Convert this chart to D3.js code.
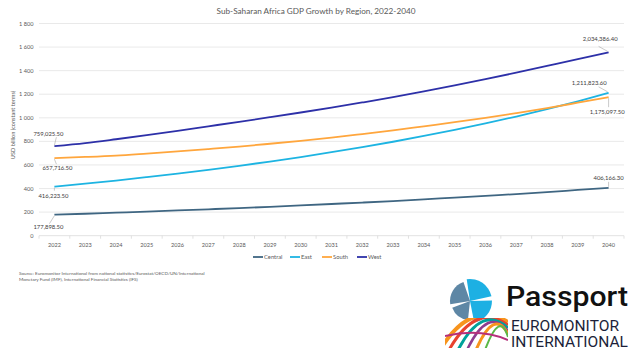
<!DOCTYPE html>
<html><head><meta charset="utf-8">
<script src="https://cdn.jsdelivr.net/npm/d3@7"></script>
<style>html,body{margin:0;padding:0;background:#fff;}svg{display:block;font-family:Lato,"Open Sans",sans-serif;}</style>
</head><body><svg id="c" width="632" height="355"></svg>
<script>
const years = ["2022","2023","2024","2025","2026","2027","2028","2029","2030","2031","2032","2033","2034","2035","2036","2037","2038","2039","2040"];
const central = [178,186,195,204,214,224,234,245,257,269,281,294,308,323,338,353,370,388,406];
const east    = [416,441,468,497,527,559,593,629,667,708,751,797,846,898,953,1011,1073,1140,1212];
const south   = [658,668,680,697,715,735,756,780,805,832,862,893,928,963,1000,1040,1082,1128,1175];
const west    = [759,785,818,853,890,928,966,1005,1045,1087,1130,1175,1224,1275,1328,1383,1440,1497,1555];
const seriesNames = ["Central","East","South","West"];
const firstLabels = ["177,898.50","416,223.50","657,716.50","759,025.50"];
const lastLabels  = ["406,166.30","1,211,823.60","1,175,097.50","2,034,386.40"];
const yTicks = [0,200,400,600,800,1000,1200,1400,1600,1800];
const title = "Sub-Saharan Africa GDP Growth by Region, 2022-2040";
const yTitle = "USD billion (constant terms)";
const sourceLines = ["Source: Euromonitor International from national statistics/Eurostat/OECD/UN/International","Monetary Fund (IMF), International Financial Statistics (IFS)"];

const colors = ["#3F6682","#1DB4E2","#FFA63D","#2D30A8"];
const data = [central,east,south,west];

const svg = d3.select("#c");
const x = d3.scaleBand().domain(years).range([39,624]);
const cx = d => x(d) + x.bandwidth()/2;
const y = d3.scaleLinear().domain([0,1800]).range([235.7,23.5]);

// title
svg.append("text").attr("x",316).attr("y",13.5).attr("text-anchor","middle")
  .attr("font-size",8.2).attr("fill","#595959").text(title);

// gridlines
svg.append("g").selectAll("line").data(yTicks.filter(d=>d>0)).join("line")
  .attr("x1",39).attr("x2",624).attr("y1",d=>y(d)).attr("y2",d=>y(d))
  .attr("stroke","#e3e3e3").attr("stroke-width",0.8);

// y axis labels
const fmt = d => d3.format(",")(d).replace(/,/g," ");
svg.append("g").selectAll("text").data(yTicks).join("text")
  .attr("x",33.5).attr("y",d=>y(d)+2).attr("text-anchor","end")
  .attr("font-size",5.6).attr("fill","#595959").text(fmt);

// y title
svg.append("text").attr("transform","translate(14.5,125) rotate(-90)")
  .attr("text-anchor","middle").attr("font-size",5.6).attr("fill","#595959").text(yTitle);

// x axis
svg.append("line").attr("x1",39).attr("x2",624).attr("y1",y(0)).attr("y2",y(0))
  .attr("stroke","#d9d9d9").attr("stroke-width",0.8);
const tickPos = years.map(d=>x(d)).concat([x.range()[1]]);
svg.append("g").selectAll("line").data(tickPos).join("line")
  .attr("x1",d=>d).attr("x2",d=>d).attr("y1",y(0)).attr("y2",y(0)+3)
  .attr("stroke","#d9d9d9").attr("stroke-width",0.8);
const xa = svg.append("g").attr("transform",`translate(0,${y(0)})`)
  .call(d3.axisBottom(x).tickSize(0).tickPadding(7));
xa.select(".domain").remove();
xa.selectAll("text").attr("font-size",5.6).attr("fill","#595959").attr("font-family","Lato");

// lines
const line = d3.line().x((d,i)=>cx(years[i])).y(d=>y(d)).curve(d3.curveMonotoneX);
data.forEach((s,k)=>{
  svg.append("path").datum(s).attr("d",line).attr("fill","none")
    .attr("stroke",colors[k]).attr("stroke-width",1.8);
});

// data labels with leaders
const lab = (tx,ty,anchor,text,l) => {
  svg.append("line").attr("x1",l[0]).attr("y1",l[1]).attr("x2",l[2]).attr("y2",l[3])
    .attr("stroke","#a6a6a6").attr("stroke-width",0.6);
  svg.append("text").attr("x",tx).attr("y",ty).attr("text-anchor",anchor)
    .attr("font-size",5.9).attr("fill","#404040").text(text);
};
const x0 = cx(years[0]), x1 = cx(years[years.length-1]);
const n = years.length-1;
lab(x0-21,y(west[0])-10,"start",firstLabels[3],[x0,y(west[0])-1,x0+2,y(west[0])-9]);
lab(x0-12,y(south[0])+12,"start",firstLabels[2],[x0,y(south[0])+1,x0+2,y(south[0])+6]);
lab(x0-16,y(east[0])+11,"start",firstLabels[1],[x0,y(east[0])+1,x0,y(east[0])+4]);
lab(x0-21,y(central[0])+14,"start",firstLabels[0],[x0,y(central[0])+1,x0-5,y(central[0])+9]);
lab(x1+9,y(west[n])-11,"end",lastLabels[3],[x1-1,y(west[n])-1,x1-10,y(west[n])-6]);
lab(x1-2,y(east[n])-8,"end",lastLabels[1],[x1-1,y(east[n])-1,x1-10,y(east[n])-6]);
lab(x1+16,y(south[n])+17,"end",lastLabels[2],[x1,y(south[n])+1,x1,y(south[n])+10]);
lab(x1+15,y(central[n])-8,"end",lastLabels[0],[x1,y(central[n])-1,x1,y(central[n])-6]);

// legend
const legX = [253,290,322,357];
const lg = svg.append("g");
seriesNames.forEach((nm,k)=>{
  lg.append("line").attr("x1",legX[k]).attr("x2",legX[k]+10).attr("y1",257).attr("y2",257)
    .attr("stroke",colors[k]).attr("stroke-width",1.8);
  lg.append("text").attr("x",legX[k]+11).attr("y",259).attr("font-size",5.8)
    .attr("fill","#595959").text(nm);
});

// source
sourceLines.forEach((t,i)=>{
  svg.append("text").attr("x",19).attr("y",275+i*6.3).attr("font-size",4.6)
    .attr("fill","#595959").text(t);
});

// logo icon
const ic = svg.append("g").attr("transform","translate(470,301)");
const arc = d3.arc().innerRadius(0);
const segs = [
  {s:-0.15,e:1.35,r:22,c:"#1DB0E3"},
  {s:1.55,e:2.95,r:22,c:"#1DB0E3"},
  {s:3.25,e:4.35,r:19,c:"#5E87A5"},
  {s:4.55,e:5.95,r:20,c:"#5E87A5"}
];
segs.forEach(sg=>{
  ic.append("path").attr("d",arc({startAngle:sg.s,endAngle:sg.e,outerRadius:sg.r})).attr("fill",sg.c);
});

// Passport text
svg.append("text").attr("x",506).attr("y",306).attr("font-family","Roboto").attr("font-weight",500)
  .attr("font-size",28).attr("fill","#111").attr("textLength",122).attr("lengthAdjust","spacingAndGlyphs").text("Passport");
svg.append("text").attr("x",511).attr("y",331).attr("font-family","Roboto")
  .attr("font-size",14.5).attr("fill","#1c1f3a").attr("textLength",108).attr("lengthAdjust","spacingAndGlyphs").text("EUROMONITOR");
svg.append("text").attr("x",511).attr("y",347).attr("font-family","Roboto")
  .attr("font-size",14.5).attr("fill","#1c1f3a").attr("textLength",117).attr("lengthAdjust","spacingAndGlyphs").text("INTERNATIONAL");

// colourful arcs
const defs = svg.append("defs");
defs.append("clipPath").attr("id","lc").append("rect").attr("x",445).attr("y",318).attr("width",63).attr("height",30);
const ag = svg.append("g").attr("clip-path","url(#lc)");
const arcsC = [["#F7941D",4],["#E8432E",3],["#00A19A",3],["#8E3D8F",2.5],["#F7941D",3],["#5BB947",2]];
arcsC.forEach((a,i)=>{
  ag.append("path").attr("d",`M${440+i*9},350 Q${470+i*6},${300+i*2} ${508},${322+i*3}`)
    .attr("fill","none").attr("stroke",a[0]).attr("stroke-width",a[1]);
});
ag.append("path").attr("d","M445,336 Q480,328 508,340").attr("fill","none").attr("stroke","#B5307A").attr("stroke-width",2);
</script></body></html>
